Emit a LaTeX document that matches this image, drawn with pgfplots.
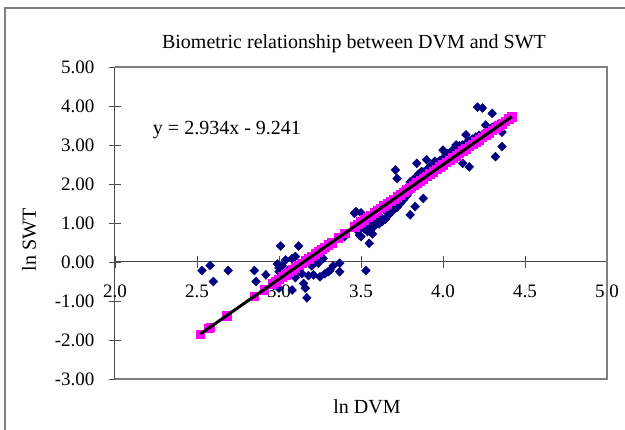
\documentclass[border=0pt]{standalone}
\usepackage{fontspec}
\setmainfont{Liberation Serif}
\usepackage{pgfplots}
\pgfplotsset{compat=1.18}
\definecolor{obsblue}{HTML}{000080}
\definecolor{predmag}{HTML}{FF00FF}
\definecolor{framegray}{HTML}{808080}

% observed ln DVM / ln SWT
\pgfplotstableread{
x y
2.53 -0.22
2.58 -0.09
2.60 -0.50
2.69 -0.22
2.85 -0.22
2.86 -0.50
2.92 -0.33
2.99 -0.05
3.00 -0.15
3.00 -0.25
3.01 0.41
3.00 -0.67
3.02 -0.10
3.04 0.05
3.06 -0.20
3.08 0.09
3.08 -0.72
3.10 0.14
3.10 -0.40
3.12 0.41
3.12 -0.25
3.14 -0.30
3.15 -0.55
3.16 -0.67
3.17 -0.92
3.18 -0.35
3.20 -0.10
3.21 -0.33
3.22 0.00
3.24 -0.03
3.25 -0.38
3.27 0.09
3.28 -0.30
3.30 -0.25
3.31 -0.22
3.33 -0.10
3.37 -0.03
3.37 -0.25
3.40 0.65
3.50 0.65
3.53 -0.22
3.55 0.48
3.57 0.72
3.46 1.25
3.47 1.29
3.48 0.80
3.49 0.69
3.50 1.26
3.51 0.95
3.52 0.85
3.53 1.10
3.54 0.78
3.55 1.00
3.56 0.90
3.57 1.20
3.58 0.91
3.59 1.05
3.60 1.30
3.61 0.98
3.62 1.15
3.63 1.04
3.64 1.35
3.65 1.10
3.66 1.28
3.67 1.21
3.68 1.45
3.69 1.30
3.70 1.55
3.71 2.36
3.72 2.14
3.72 1.40
3.73 1.65
3.74 1.50
3.75 1.80
3.76 1.60
3.77 1.85
3.78 1.70
3.79 1.95
3.80 1.21
3.80 1.82
3.80 2.05
3.81 2.00
3.82 1.90
3.82 2.12
3.83 1.42
3.83 2.10
3.84 2.53
3.85 2.05
3.85 2.25
3.86 2.20
3.87 2.15
3.87 2.32
3.88 1.63
3.88 2.30
3.89 2.25
3.90 2.62
3.90 2.35
3.91 2.40
3.92 2.30
3.92 2.45
3.93 2.45
3.94 2.50
3.95 2.40
3.95 2.58
3.96 2.55
3.97 2.48
3.98 2.60
3.99 2.55
4.00 2.87
4.00 2.50
4.00 2.66
4.01 2.65
4.02 2.60
4.03 2.70
4.03 2.78
4.04 2.58
4.05 2.75
4.06 2.80
4.06 2.88
4.07 2.70
4.08 3.00
4.08 2.85
4.09 2.78
4.10 2.90
4.10 2.98
4.11 2.80
4.12 2.53
4.12 3.00
4.13 2.95
4.14 3.26
4.14 3.05
4.15 3.00
4.16 2.44
4.16 3.10
4.17 3.05
4.18 3.15
4.19 3.10
4.20 3.20
4.21 3.97
4.22 3.25
4.23 3.15
4.24 3.95
4.25 3.30
4.26 3.51
4.27 3.35
4.28 3.40
4.30 3.81
4.30 3.45
4.32 2.70
4.32 3.50
4.34 3.55
4.36 2.96
4.36 3.33
4.38 3.60
4.40 3.68
4.42 3.70
}\obsdata

% predicted values on the fitted line
\pgfplotstableread{
x y
2.52 -1.847
2.57 -1.701
2.58 -1.671
2.68 -1.378
2.85 -0.879
2.91 -0.703
2.96 -0.556
2.98 -0.498
3.00 -0.439
3.02 -0.380
3.04 -0.322
3.06 -0.263
3.08 -0.204
3.10 -0.146
3.12 -0.087
3.14 -0.028
3.16 0.031
3.18 0.089
3.20 0.148
3.22 0.207
3.24 0.265
3.26 0.324
3.28 0.383
3.30 0.441
3.32 0.500
3.36 0.617
3.40 0.735
3.46 0.911
3.48 0.969
3.50 1.028
3.52 1.087
3.54 1.145
3.56 1.204
3.58 1.263
3.60 1.321
3.62 1.380
3.64 1.439
3.66 1.497
3.68 1.556
3.70 1.615
3.72 1.674
3.74 1.732
3.76 1.791
3.78 1.850
3.80 1.908
3.82 1.967
3.84 2.026
3.86 2.084
3.88 2.143
3.90 2.202
3.92 2.260
3.94 2.319
3.96 2.378
3.98 2.436
4.00 2.495
4.02 2.554
4.04 2.613
4.06 2.671
4.08 2.730
4.10 2.788
4.12 2.847
4.14 2.906
4.16 2.965
4.18 3.023
4.20 3.082
4.22 3.141
4.24 3.199
4.26 3.258
4.28 3.317
4.30 3.375
4.32 3.434
4.34 3.493
4.36 3.551
4.38 3.610
4.40 3.669
4.42 3.727
}\preddata

\begin{document}
\begin{tikzpicture}
\useasboundingbox (-115pt,-51pt) rectangle (510pt,379pt);
\fill[white] (-115pt,-51pt) rectangle (510pt,379pt);
\draw[framegray, line width=1.2pt] (-110pt,-80pt) rectangle (530pt,371pt);

\node[font=\fontsize{20}{24}\selectfont] at (239pt,335pt) {Biometric relationship between DVM and SWT};
\node[font=\fontsize{20}{24}\selectfont] at (252pt,-28pt) {ln DVM};
\node[font=\fontsize{20}{24}\selectfont, rotate=90] at (-86pt,139pt) {ln SWT};

\begin{axis}[
    scale only axis,
    width=492pt, height=312pt,
    xmin=2, xmax=5, ymin=-3, ymax=5,
    axis x line=middle, axis y line=left,
    axis line style={-, line width=1pt, black!70},
    xtick={2,2.5,3,3.5,4,4.5,5},
    xticklabels={2.0,2.5,3.0,3.5,4.0,4.5,5.0},
    ytick={-3,-2,-1,0,1,2,3,4,5},
    yticklabels={-3.00,-2.00,-1.00,0.00,1.00,2.00,3.00,4.00,5.00},
    hide obscured x ticks=false,
    tick align=center,
    major tick length=12pt,
    tick style={black!70, line width=0.8pt},
    x tick label style={font=\fontsize{19}{22}\selectfont, yshift=-13pt},
    y tick label style={font=\fontsize{19}{22}\selectfont, xshift=-11pt},
    clip=false,
    clip marker paths=true,
]
\draw[framegray, line width=1.2pt] (rel axis cs:0,1) -- (rel axis cs:1,1) -- (rel axis cs:1,0) -- (rel axis cs:0,0);
\addplot[only marks, mark=diamond*, mark size=4.5pt, mark options={xscale=1.3}, color=obsblue] table {\obsdata};
\addplot[only marks, mark=square*, mark size=4.3pt, color=predmag] table {\preddata};
\addplot[black, line width=3pt] coordinates {(2.52,-1.847) (4.42,3.727)};
\node[anchor=west, font=\fontsize{20}{24}\selectfont] at (axis cs:2.21,3.38) {y = 2.934x - 9.241};
\end{axis}
\end{tikzpicture}
\end{document}
